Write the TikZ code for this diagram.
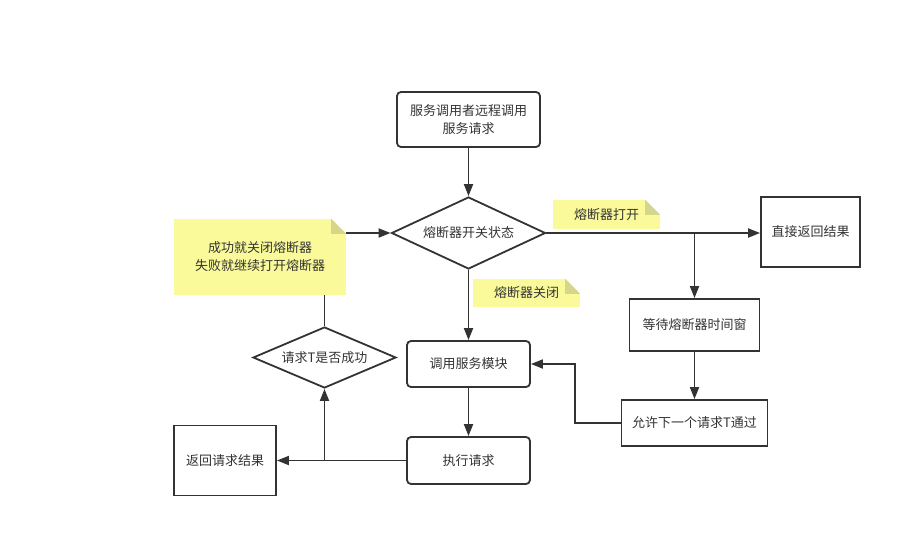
\documentclass[tikz,border=0pt]{standalone}
\usepackage{fontspec}
\setmainfont{Noto Sans CJK SC}
\usetikzlibrary{shapes.geometric,arrows.meta}
\definecolor{linegray}{RGB}{51,51,51}
\definecolor{memoyellow}{RGB}{250,250,155}
\definecolor{memofold}{RGB}{214,213,140}
\tikzset{
  flow/.style={draw=linegray, line width=1.8pt, text=linegray, align=center, font=\fontsize{13}{18}\selectfont},
  proc/.style={flow, rectangle, rounded corners=4pt},
  plainbox/.style={flow, rectangle},
  decide/.style={flow, diamond, inner sep=0pt},
  memo/.style={fill=memoyellow, text=linegray, align=center, font=\fontsize{13}{18}\selectfont},
  conn/.style={draw=linegray, line width=1.8pt, -{Triangle[length=12pt,width=9pt]}},
  wire/.style={draw=linegray, line width=1.8pt}
}
\begin{document}
\begin{tikzpicture}[x=1pt,y=-1pt]
\useasboundingbox (0,0) rectangle (923,557);
% boxes
\node[proc, minimum width=143, minimum height=55] (caller) at (468.5,119.5) {服务调用者远程调用\\服务请求};
\node[decide, aspect=2.14, minimum width=154, minimum height=72] (state) at (468.5,233) {熔断器开关状态};
\node[plainbox, minimum width=99, minimum height=70] (direct) at (810.5,232) {直接返回结果};
\node[plainbox, minimum width=130, minimum height=52] (wait) at (694.5,325) {等待熔断器时间窗};
\node[plainbox, minimum width=146, minimum height=46] (allow) at (694.5,423) {允许下一个请求T通过};
\node[proc, minimum width=123, minimum height=46] (invoke) at (468.5,364) {调用服务模块};
\node[proc, minimum width=123, minimum height=47] (exec) at (468.5,460.5) {执行请求};
\node[plainbox, minimum width=102, minimum height=70] (ret) at (225,460.5) {返回请求结果};
\node[decide, aspect=2.34, minimum width=143, minimum height=61] (ok) at (324.5,357.5) {请求T是否成功};
% notes
\node[memo, minimum width=107, minimum height=29] (open) at (606.5,214.5) {熔断器打开};
\node[memo, minimum width=107, minimum height=28] (closed) at (526.5,293) {熔断器关闭};
\node[memo, minimum width=172, minimum height=76] (rule) at (260,257) {成功就关闭熔断器\\失败就继续打开熔断器};
\foreach \n in {open,closed,rule} {
  \fill[white] (\n.north east) -- ++(-15,0) -- ++(15,15) -- cycle;
  \fill[memofold] (\n.north east) ++(-15,0) -- ++(0,15) -- ++(15,0) -- cycle;
}
% connectors
\draw[conn] (caller) -- (state);
\draw[conn] (state.east) -- (state.east -| direct.west);
\draw[conn] (state.east -| wait.north) -- (wait);
\draw[conn] (wait) -- (allow);
\draw[conn] (allow.west) -- ++(-46,0) |- (invoke.east);
\draw[conn] (state) -- (invoke);
\draw[conn] (invoke) -- (exec);
\draw[conn] (exec) -- (ret);
\draw[conn] (exec.west -| ok.south) -- (ok);
\draw[wire] (ok) -- (ok.north |- rule.south);
\draw[conn] (rule.east |- state) -- (state);
\end{tikzpicture}
\end{document}
